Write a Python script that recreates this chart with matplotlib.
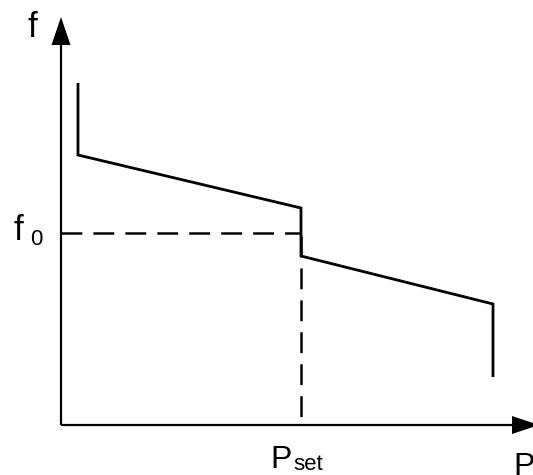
import matplotlib
matplotlib.use("Agg")
import matplotlib.pyplot as plt

plt.rcParams['font.family'] = ['Liberation Sans', 'DejaVu Sans']
plt.rcParams['lines.scale_dashes'] = False

# Droop characteristic (schematic units, origin at axis corner)
P_curve = [17, 17, 240, 240, 432, 432]
f_curve = [342, 270, 217, 169, 121, 48]
P_set = 240
f0 = 192
x_axis_end = 478
y_axis_end = 408

fig = plt.figure(figsize=(5.33, 4.75), dpi=100)
ax = fig.add_axes([0, 0, 1, 1])
ax.set_xlim(-61, 472)
ax.set_ylim(-50, 425)
ax.axis('off')

# axes with arrows
ax.plot([0, x_axis_end - 26], [0, 0], color='black', lw=1.6, solid_capstyle='butt')
ax.plot([0, 0], [0, y_axis_end - 26], color='black', lw=1.6, solid_capstyle='butt')
ax.arrow(x_axis_end - 27, 0, 27, 0, head_width=18, head_length=27, length_includes_head=True,
         width=0, lw=0, color='black')
ax.arrow(0, y_axis_end - 28, 0, 28, head_width=19, head_length=28, length_includes_head=True,
         width=0, lw=0, color='black')

# dashed guides
ax.plot([0, P_set], [f0, f0], color='black', lw=1.8, dashes=(15, 8), solid_capstyle='butt',
        dash_capstyle='butt')
ax.plot([P_set, P_set], [f0 - 3, 0], color='black', lw=1.8, dashes=(15, 8), dash_capstyle='butt')

# curve
ax.plot(P_curve, f_curve, color='black', lw=2.0, solid_joinstyle='miter', solid_capstyle='butt')

# labels (positions in axis units)
ax.text(-33, 425 - 37, 'f', fontsize=25, ha='left', va='baseline')
ax.text(-48, 425 - 240, 'f', fontsize=25, ha='left', va='baseline')
ax.text(-31, 425 - 245, '0', fontsize=16, ha='left', va='baseline')
ax.text(209, 425 - 468, 'P', fontsize=23, ha='left', va='baseline')
ax.text(232, 425 - 470, 'set', fontsize=16, ha='left', va='baseline')
ax.text(452, 425 - 475, 'P', fontsize=23, ha='left', va='baseline')

fig.savefig('out.png', dpi=100)
